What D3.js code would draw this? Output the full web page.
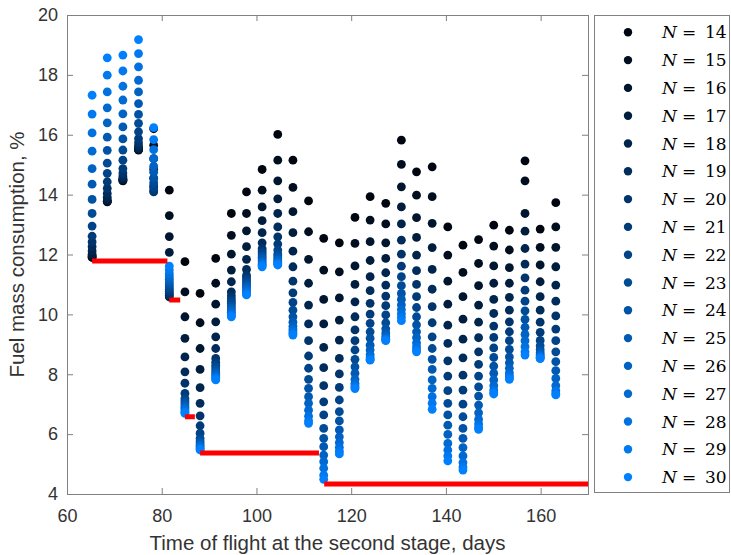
<!DOCTYPE html>
<html>
<head>
<meta charset="utf-8">
<script src="https://cdn.jsdelivr.net/npm/d3@7"></script>
<style>
  body { margin: 0; background: #fff; }
  svg { display: block; }
</style>
</head>
<body>
<div id="vis"></div>
<script>
// time of flight at the second stage, days (one column of points per value)
const days = [65.3, 68.5, 71.8, 75.1, 78.3, 81.6, 84.9, 88.1, 91.4, 94.7, 97.9,
  101.2, 104.5, 107.7, 111.0, 114.2, 117.5, 120.8, 124.0, 127.3, 130.6, 133.8,
  137.1, 140.4, 143.6, 146.9, 150.1, 153.4, 156.7, 159.9, 163.2]

// number of revolutions N, one series each
const nValues = d3.range(14, 31)

// fuel mass consumption, %, per column, ordered N = 14 ... 30
const c01 = [11.90, 11.92, 11.95, 12.01, 12.12, 12.26, 12.42, 12.61, 12.95, 13.37, 13.84, 14.35, 14.87, 15.45, 16.06, 16.69, 17.32]
const c02 = [13.76, 13.77, 13.79, 13.82, 13.91, 14.04, 14.21, 14.43, 14.71, 15.05, 15.48, 15.92, 16.40, 16.90, 17.43, 17.99, 18.57]
const c03 = [14.46, 14.47, 14.49, 14.51, 14.55, 14.62, 14.72, 14.87, 15.15, 15.49, 15.86, 16.26, 16.70, 17.16, 17.62, 18.13, 18.66]
const c04 = [15.49, 15.50, 15.51, 15.53, 15.57, 15.63, 15.73, 15.87, 16.10, 16.38, 16.68, 17.04, 17.43, 17.82, 18.27, 18.71, 19.18]
const c05 = [16.20, 15.65, 15.20, 14.85, 14.55, 14.30, 14.09, 14.15, 14.25, 14.40, 14.55, 14.75, 14.95, 15.20, 15.50, 15.84, 16.24]
const c06 = [14.15, 13.30, 12.60, 12.07, 10.58, 10.64, 10.70, 10.77, 10.84, 10.92, 11.00, 11.08, 11.17, 11.26, 11.36, 11.48, 11.61]
const c07 = [11.76, 10.75, 9.92, 9.20, 8.58, 8.08, 7.70, 7.36, 7.19, 7.11, 7.04, 6.97, 6.90, 6.84, 6.78, 6.73, 6.69]
const c08 = [10.70, 9.72, 8.86, 8.16, 7.55, 7.03, 6.61, 6.28, 6.03, 5.86, 5.77, 5.70, 5.64, 5.59, 5.54, 5.50, 5.47]
const c09 = [11.87, 11.04, 10.34, 9.75, 9.25, 8.86, 8.53, 8.40, 8.30, 8.22, 8.14, 8.07, 8.00, 7.94, 7.89, 7.85, 7.81]
const c10 = [13.37, 12.64, 12.01, 11.48, 11.09, 10.75, 10.62, 10.52, 10.44, 10.36, 10.28, 10.21, 10.14, 10.07, 10.01, 9.96, 9.92]
const c11 = [14.09, 13.37, 12.79, 12.26, 11.84, 11.50, 11.30, 11.22, 11.15, 11.08, 11.01, 10.94, 10.88, 10.81, 10.75, 10.70, 10.65]
const c12 = [14.84, 14.15, 13.59, 13.13, 12.73, 12.39, 12.20, 12.12, 12.05, 11.98, 11.91, 11.85, 11.78, 11.72, 11.67, 11.63, 11.59]
const c13 = [16.01, 15.15, 14.46, 13.86, 13.37, 12.92, 12.59, 12.35, 12.15, 12.02, 11.95, 11.88, 11.82, 11.77, 11.72, 11.68, 11.65]
const c14 = [15.15, 14.24, 13.43, 12.73, 12.11, 11.59, 11.11, 10.72, 10.40, 10.14, 9.92, 9.74, 9.60, 9.50, 9.42, 9.36, 9.31]
const c15 = [13.79, 12.76, 11.84, 11.04, 10.31, 9.68, 9.12, 8.61, 8.20, 7.83, 7.53, 7.25, 7.03, 6.80, 6.60, 6.45, 6.36]
const c16 = [12.54, 11.48, 10.50, 9.68, 8.90, 8.22, 7.62, 7.08, 6.64, 6.19, 5.86, 5.58, 5.30, 5.08, 4.86, 4.63, 4.49]
const c17 = [12.39, 11.42, 10.55, 9.81, 9.14, 8.53, 8.01, 7.56, 7.14, 6.75, 6.44, 6.14, 5.91, 5.72, 5.56, 5.43, 5.34]
const c18 = [13.24, 12.37, 11.62, 11.00, 10.42, 9.92, 9.48, 9.12, 8.81, 8.50, 8.25, 8.03, 7.83, 7.70, 7.62, 7.56, 7.52]
const c19 = [13.93, 13.15, 12.43, 11.80, 11.26, 10.79, 10.37, 10.01, 9.70, 9.42, 9.20, 8.97, 8.81, 8.66, 8.56, 8.50, 8.47]
const c20 = [13.71, 13.02, 12.39, 11.87, 11.39, 10.98, 10.61, 10.29, 9.98, 9.72, 9.52, 9.38, 9.28, 9.21, 9.17, 9.14, 9.12]
const c21 = [15.82, 15.01, 14.26, 13.59, 13.02, 12.48, 12.01, 11.61, 11.26, 10.96, 10.70, 10.50, 10.32, 10.16, 10.02, 9.90, 9.79]
const c22 = [14.76, 13.98, 13.23, 12.57, 11.98, 11.46, 11.00, 10.59, 10.23, 9.92, 9.65, 9.42, 9.22, 9.05, 8.92, 8.82, 8.75]
const c23 = [14.93, 13.93, 13.04, 12.23, 11.50, 10.84, 10.26, 9.72, 9.25, 8.86, 8.50, 8.16, 7.81, 7.53, 7.25, 7.03, 6.83]
const c24 = [12.92, 11.98, 11.11, 10.34, 9.64, 9.03, 8.45, 7.94, 7.45, 7.03, 6.64, 6.30, 5.99, 5.69, 5.47, 5.27, 5.11]
const c25 = [12.31, 11.40, 10.59, 9.84, 9.17, 8.55, 7.97, 7.47, 7.00, 6.58, 6.19, 5.86, 5.55, 5.27, 5.05, 4.90, 4.80]
const c26 = [12.50, 11.70, 10.96, 10.31, 9.74, 9.22, 8.75, 8.33, 7.94, 7.58, 7.27, 6.97, 6.71, 6.49, 6.34, 6.23, 6.16]
const c27 = [12.98, 12.28, 11.62, 11.04, 10.50, 10.03, 9.61, 9.23, 8.88, 8.56, 8.27, 8.03, 7.81, 7.62, 7.47, 7.39, 7.34]
const c28 = [12.81, 12.15, 11.56, 11.04, 10.57, 10.14, 9.75, 9.42, 9.12, 8.83, 8.58, 8.38, 8.20, 8.05, 7.95, 7.88, 7.83]
const c29 = [15.13, 14.46, 13.37, 12.78, 12.20, 11.68, 11.22, 10.81, 10.44, 10.12, 9.83, 9.57, 9.33, 9.12, 8.92, 8.75, 8.64]
const c30 = [12.85, 12.24, 11.65, 11.09, 10.59, 10.14, 9.74, 9.40, 9.13, 8.95, 8.82, 8.73, 8.66, 8.61, 8.57, 8.54, 8.52]
const c31 = [13.73, 12.92, 12.24, 11.59, 10.98, 10.44, 9.95, 9.51, 9.12, 8.75, 8.42, 8.12, 7.86, 7.62, 7.45, 7.36, 7.31]

const columns = [c01, c02, c03, c04, c05, c06, c07, c08, c09, c10, c11, c12, c13, c14, c15, c16,
  c17, c18, c19, c20, c21, c22, c23, c24, c25, c26, c27, c28, c29, c30, c31]

// red step line: [from day, to day, fuel %]
const bestSteps = [
  [65.3, 81.2, 11.78],
  [81.6, 83.9, 10.48],
  [84.9, 87.0, 6.58],
  [88.1, 113.2, 5.37],
  [114.3, 170, 4.33]
]

const xTicks = [60, 80, 100, 120, 140, 160]
const yTicks = [4, 6, 8, 10, 12, 14, 16, 18, 20]

//size of the picture and of the plot box
const width = 731
const height = 555
const boxLeft = 67, boxRight = 588, boxTop = 15, boxBottom = 494

const svg = d3.select("#vis")
  .append("svg")
  .attr("width", width)
  .attr("height", height)

const x = d3.scaleLinear().domain([60, 170]).range([boxLeft, boxRight])
const y = d3.scaleLinear().domain([4, 20]).range([boxBottom, boxTop])

//black for N = 14 to bright blue for N = 30
const color = d3.scaleLinear()
  .domain([14, 30])
  .range(["#000610", "#0080ff"])
  .interpolate(d3.interpolateRgb)

const axisColor = "#808080"
const textColor = "#333"

//one series per N, so the later (lighter) ones are drawn on top
const series = nValues.map((n, i) => ({
  n: n,
  points: days.map((d, j) => ({ day: d, value: columns[j][i] }))
}))

const plot = svg.append("g")

plot.selectAll(".series")
  .data(series)
  .enter()
  .append("g")
  .attr("class", "series")
  .attr("fill", s => color(s.n))
  .selectAll("circle")
  .data(s => s.points)
  .enter()
  .append("circle")
  .attr("cx", p => x(p.day))
  .attr("cy", p => y(p.value))
  .attr("r", 4.4)

//best fuel consumption so far
plot.selectAll(".step")
  .data(bestSteps)
  .enter()
  .append("line")
  .attr("class", "step")
  .attr("x1", s => x(s[0]))
  .attr("x2", s => x(s[1]))
  .attr("y1", s => y(s[2]))
  .attr("y2", s => y(s[2]))
  .attr("stroke", "#ff0000")
  .attr("stroke-width", 5)

//axes with inward ticks on all four sides
const fontAxis = "'Liberation Sans', Arial, sans-serif"

function styleAxis(g) {
  g.select(".domain").remove()
  g.selectAll(".tick line").attr("stroke", axisColor)
  g.selectAll(".tick text")
    .attr("fill", textColor)
    .style("font-family", fontAxis)
    .style("font-size", "18px")
}

svg.append("g")
  .attr("transform", `translate(0,${boxBottom})`)
  .call(d3.axisBottom(x).tickValues(xTicks).tickSize(-6).tickPadding(15))
  .call(styleAxis)

svg.append("g")
  .attr("transform", `translate(0,${boxTop})`)
  .call(d3.axisTop(x).tickValues(xTicks).tickSize(-6).tickFormat(""))
  .call(styleAxis)

svg.append("g")
  .attr("transform", `translate(${boxLeft},0)`)
  .call(d3.axisLeft(y).tickValues(yTicks).tickSize(-6).tickPadding(9))
  .call(styleAxis)

svg.append("g")
  .attr("transform", `translate(${boxRight},0)`)
  .call(d3.axisRight(y).tickValues(yTicks).tickSize(-6).tickFormat(""))
  .call(styleAxis)

svg.append("rect")
  .attr("x", boxLeft + 0.5)
  .attr("y", boxTop + 0.5)
  .attr("width", boxRight - boxLeft)
  .attr("height", boxBottom - boxTop)
  .attr("fill", "none")
  .attr("stroke", axisColor)

//axis titles
svg.append("text")
  .attr("x", (boxLeft + boxRight) / 2)
  .attr("y", 550)
  .attr("text-anchor", "middle")
  .attr("fill", textColor)
  .style("font-family", fontAxis)
  .style("font-size", "20.5px")
  .text("Time of flight at the second stage, days")

svg.append("text")
  .attr("transform", `translate(24,${(boxTop + boxBottom) / 2}) rotate(-90)`)
  .attr("text-anchor", "middle")
  .attr("fill", textColor)
  .style("font-family", fontAxis)
  .style("font-size", "20.5px")
  .text("Fuel mass consumption, %")

//legend
const legend = svg.append("g")

legend.append("rect")
  .attr("x", 594.5)
  .attr("y", 15.5)
  .attr("width", 135)
  .attr("height", 477)
  .attr("fill", "#fff")
  .attr("stroke", axisColor)

const entries = legend.selectAll(".entry")
  .data(nValues)
  .enter()
  .append("g")
  .attr("class", "entry")
  .attr("transform", (n, i) => `translate(0,${32.3 + i * 27.8})`)

entries.append("circle")
  .attr("cx", 628)
  .attr("cy", 0)
  .attr("r", 4.2)
  .attr("fill", n => color(n))

const label = entries.append("text")
  .attr("y", 6)
  .attr("fill", "#000")
  .style("font-family", "'DejaVu Serif', serif")
  .style("font-size", "17px")

label.append("tspan").attr("x", 662).style("font-style", "italic").text("N")
label.append("tspan").attr("x", 682).text("=")
label.append("tspan").attr("x", 705).text(n => n)
</script>
</body>
</html>
